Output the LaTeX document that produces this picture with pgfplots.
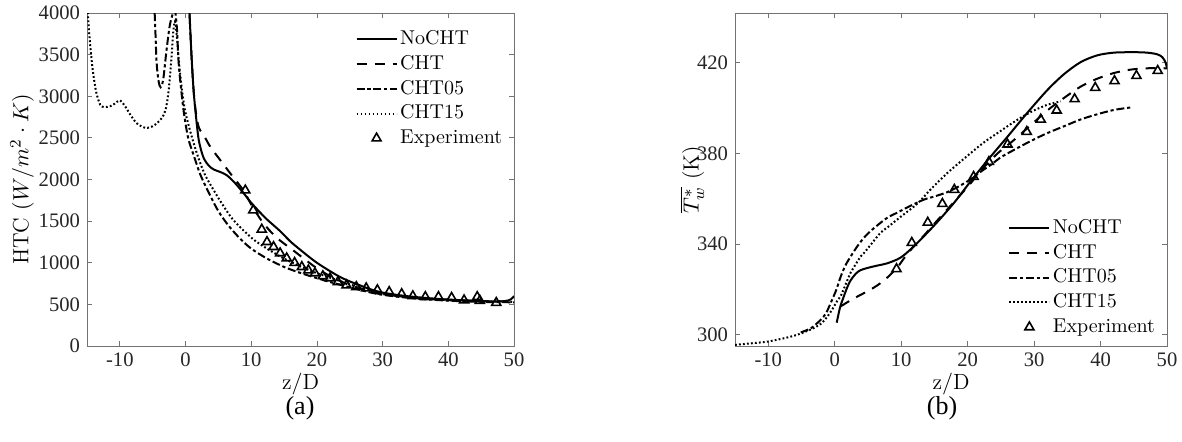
\documentclass[border=0pt]{standalone}
\usepackage{pgfplots}
\pgfplotsset{compat=1.18}
\usepackage{fontspec}
\newfontfamily\tnr{Liberation Serif}

\pgfplotsset{
  mystyle/.style={
    scale only axis,
    axis line style={black!55},
    every tick/.style={black!55},
    major tick length=2.5pt,
    xtick pos=both, ytick pos=both,
    tick align=inside,
    xmin=-15, xmax=50,
    xtick={-10,0,10,20,30,40,50},
    scaled ticks=false,
    /pgf/number format/1000 sep={},
    /pgf/number format/assume math mode=true,
    tick label style={font=\tnr\fontsize{10.3}{11}\selectfont, black!85},
    label style={font=\fontsize{11}{13}\selectfont},
    xlabel={$\mathrm{z/D}$},
    xlabel style={at={(axis description cs:0.5,-0.115)}, anchor=center},
    legend cell align=left,
    legend style={draw=none, fill=none, font=\fontsize{10}{11}\selectfont,
      row sep=0pt, column sep=0pt,
      nodes={inner sep=1.3pt, text height=7.6pt, text depth=2.2pt}},
  },
  ln/.style={line width=1pt, black,
    legend image code/.code={\draw[##1] (0pt,0pt) -- (20pt,0pt);}},
  cht/.style={ln, dash pattern=on 5pt off 4pt},
  cht05/.style={ln, dash pattern=on 4pt off 1.4pt on 1.6pt off 1.4pt},
  cht15/.style={ln, dash pattern=on 0.9pt off 1.1pt},
  expt/.style={only marks, mark=triangle, mark size=2.6pt, black,
    mark options={solid, line width=0.8pt},
    legend image code/.code={\draw[##1] plot coordinates {(10pt,0pt)};}},
}

\begin{document}
\begin{tikzpicture}
\useasboundingbox (0,0) rectangle (591pt,220.5pt);

% (a) heat transfer coefficient
\begin{axis}[mystyle,
  at={(43.5pt,47.5pt)}, anchor=south west,
  width=213.5pt, height=166.5pt,
  ymin=0, ymax=4000,
  ytick={0,500,...,4000},
  ylabel={HTC $(W/m^2\cdot K)$},
  ylabel style={at={(axis description cs:-0.152,0.5)}, anchor=center},
  legend style={at={(0.614,0.972)}, anchor=north west},
]
\addplot[ln, smooth] coordinates {
 (0.45,4200) (0.6,4000) (0.9,3500) (1.2,3100) (1.5,2830) (2.0,2480) (2.7,2270)
 (3.5,2170) (4.3,2120) (5.3,2090) (6.3,2050) (7.5,1960) (8.8,1840) (10,1720)
 (11.4,1600) (12.4,1520) (14.4,1380) (15.9,1260) (17.4,1160) (20,1000) (23.5,830)
 (26.5,730) (29.5,650) (33.6,600) (38.6,565) (43.6,545) (48.2,535) (49.5,560) (50,600)};
\addlegendentry{NoCHT}
\addplot[cht, smooth] coordinates {
 (0.45,4200) (0.6,4000) (0.9,3500) (1.2,3100) (1.5,2850) (2.0,2630) (3.0,2500)
 (3.8,2390) (5.6,2200) (6.8,2075) (8.8,1870) (10,1700) (11.8,1480) (13.9,1300)
 (16.7,1130) (19.7,950) (22,840) (25,730) (28,655) (30,620) (35,580) (40,555)
 (45,540) (48,535) (50,560)};
\addlegendentry{CHT}
\addplot[cht05, smooth] coordinates {
 (-4.8,4200) (-4.6,3800) (-4.4,3400) (-4.1,3180) (-3.8,3110) (-3.4,3200) (-2.9,3550)
 (-2.4,3850) (-1.9,4000) (-1.6,4030) (-1.3,3800) (-1.0,3350) (-0.3,2830) (0.4,2500)
 (1.2,2300) (2.3,2050) (3.8,1800) (5,1620) (6.5,1450) (8.3,1290) (10,1170)
 (12.4,1050) (15,950) (17.4,880) (20,815) (22.4,760) (25,705) (27.5,655) (30,615)
 (35,570) (40,545) (45,530) (50,525)};
\addlegendentry{CHT05}
\addplot[cht15, smooth] coordinates {
 (-15,4200) (-14.8,3900) (-14.5,3600) (-14.1,3300) (-13.6,3050) (-13.0,2900)
 (-12.4,2870) (-11.5,2880) (-10.8,2910) (-10.0,2950) (-9.2,2880) (-8.5,2790)
 (-7.5,2680) (-6.5,2630) (-5.8,2620) (-5.0,2640) (-4.3,2680) (-3.5,2750) (-3.0,2850)
 (-2.6,3050) (-2.2,3400) (-1.9,3750) (-1.6,3900) (-1.3,3700) (-1.0,3400) (-0.5,3050)
 (0,2800) (1,2500) (2,2250) (3,2050) (4.3,1870) (5.3,1740) (7,1540) (8.8,1390)
 (10.5,1270) (12.4,1170) (15,1050) (17.4,960) (20,875) (22.4,810) (25,740)
 (27.5,680) (30,630) (35,580) (40,550) (45,535) (50,530)};
\addlegendentry{CHT15}
\addplot[expt] coordinates {
 (9.1,1870) (10.3,1630) (11.6,1400) (12.4,1250) (13.4,1190) (14.4,1115) (15.4,1055)
 (16.6,1000) (17.7,950) (18.7,910) (19.7,875) (20.9,840) (22,815) (23.2,770)
 (24.5,730) (26,710) (27.5,695) (29.2,672) (31,650) (32.9,625) (34.6,600)
 (36.5,590) (38.5,590) (40.5,580) (42.4,550) (44.4,590) (44.8,545) (47.3,520)};
\addlegendentry{Experiment}
\end{axis}

% (b) wall temperature
\begin{axis}[mystyle,
  at={(367.5pt,47.5pt)}, anchor=south west,
  width=216pt, height=166.5pt,
  ymin=295, ymax=442,
  ytick={300,340,380,420},
  ylabel={$\overline{T_w^*}$ (K)},
  ylabel style={at={(axis description cs:-0.0995,0.5)}, anchor=center},
  legend style={at={(0.618,0.405)}, anchor=north west},
]
\addplot[ln, smooth] coordinates {
 (0.3,305.3) (0.8,312) (1.2,315.5) (1.9,321) (2.4,324) (3.2,327) (3.9,328.5)
 (5,329.5) (6.4,330.5) (7.9,331.5) (9.9,334) (11.9,339) (14.9,348) (17.9,358)
 (20.4,367.5) (23,377) (26,387.4) (29,398) (32,408) (34.5,415) (37,420.3)
 (39.5,423.3) (42,424.5) (45,424.7) (47,424.5) (48.5,423.8) (49.3,422.5)
 (49.8,420) (50,417.5)};
\addlegendentry{NoCHT}
\addplot[cht, smooth] coordinates {
 (0.9,312.5) (2,314.5) (3.2,316.5) (4.5,318.5) (5.9,320.8) (7,323) (8.1,325.7)
 (9.5,330) (10.5,334) (11.9,339) (13.5,344) (15,349) (17,355.5) (19,362)
 (20.5,367) (22,372.5) (24.5,380) (27,386) (29.5,392.5) (32,399) (34.5,404.5)
 (37,409.5) (39.5,413) (42,415.5) (44.5,417) (47,417.6) (50,417.6)};
\addlegendentry{CHT}
\addplot[cht05, smooth] coordinates {
 (-5.1,301) (-3.5,303) (-2.1,306.6) (-1.3,309.5) (-0.6,314) (0.2,319.5) (0.9,325.6)
 (1.6,330.5) (2.4,334.5) (3.4,339) (4.4,342.8) (5.5,346) (6.9,349.4) (8,351.8)
 (9.5,354) (11,356.3) (13.4,359.6) (15,361) (17,363) (19,366) (20.4,368.5) (22,372)
 (23.5,375) (25,378.3) (27,381.6) (29.5,385.5) (32,389) (34.5,392) (37,395)
 (39.5,397.3) (42,399.2) (44.5,400.3)};
\addlegendentry{CHT05}
\addplot[cht15, smooth] coordinates {
 (-15,295.5) (-12.5,296.2) (-10,297) (-7.5,298.5) (-5.6,300) (-4,301.8) (-3.1,303)
 (-2,305) (-1.1,308) (-0.3,311.5) (0.4,315) (0.9,317) (1.9,324) (2.4,327.4)
 (3.9,334.5) (4.4,336) (5.5,340) (6.9,345) (8,347.5) (9.9,352) (11.9,356.5)
 (13,359.5) (14.4,364) (17,371.5) (20.4,380) (22.5,385) (24.5,389) (26.5,393)
 (28.4,396.5) (30,399) (32,401.5) (34,403)};
\addlegendentry{CHT15}
\addplot[expt] coordinates {
 (9.3,329) (11.6,340.6) (14,349.5) (16.2,357.8) (18,364) (20.9,369.7) (23.2,376.3)
 (26,384) (28.9,389.6) (31,395) (33.4,399) (36.1,404) (39.2,409) (42.1,412)
 (45.4,414.3) (48.6,416.5)};
\addlegendentry{Experiment}
\end{axis}

\node[font=\tnr\fontsize{13}{15}\selectfont] at (150pt,16.5pt) {(a)};
\node[font=\tnr\fontsize{13}{15}\selectfont] at (471pt,16.5pt) {(b)};
\end{tikzpicture}
\end{document}
